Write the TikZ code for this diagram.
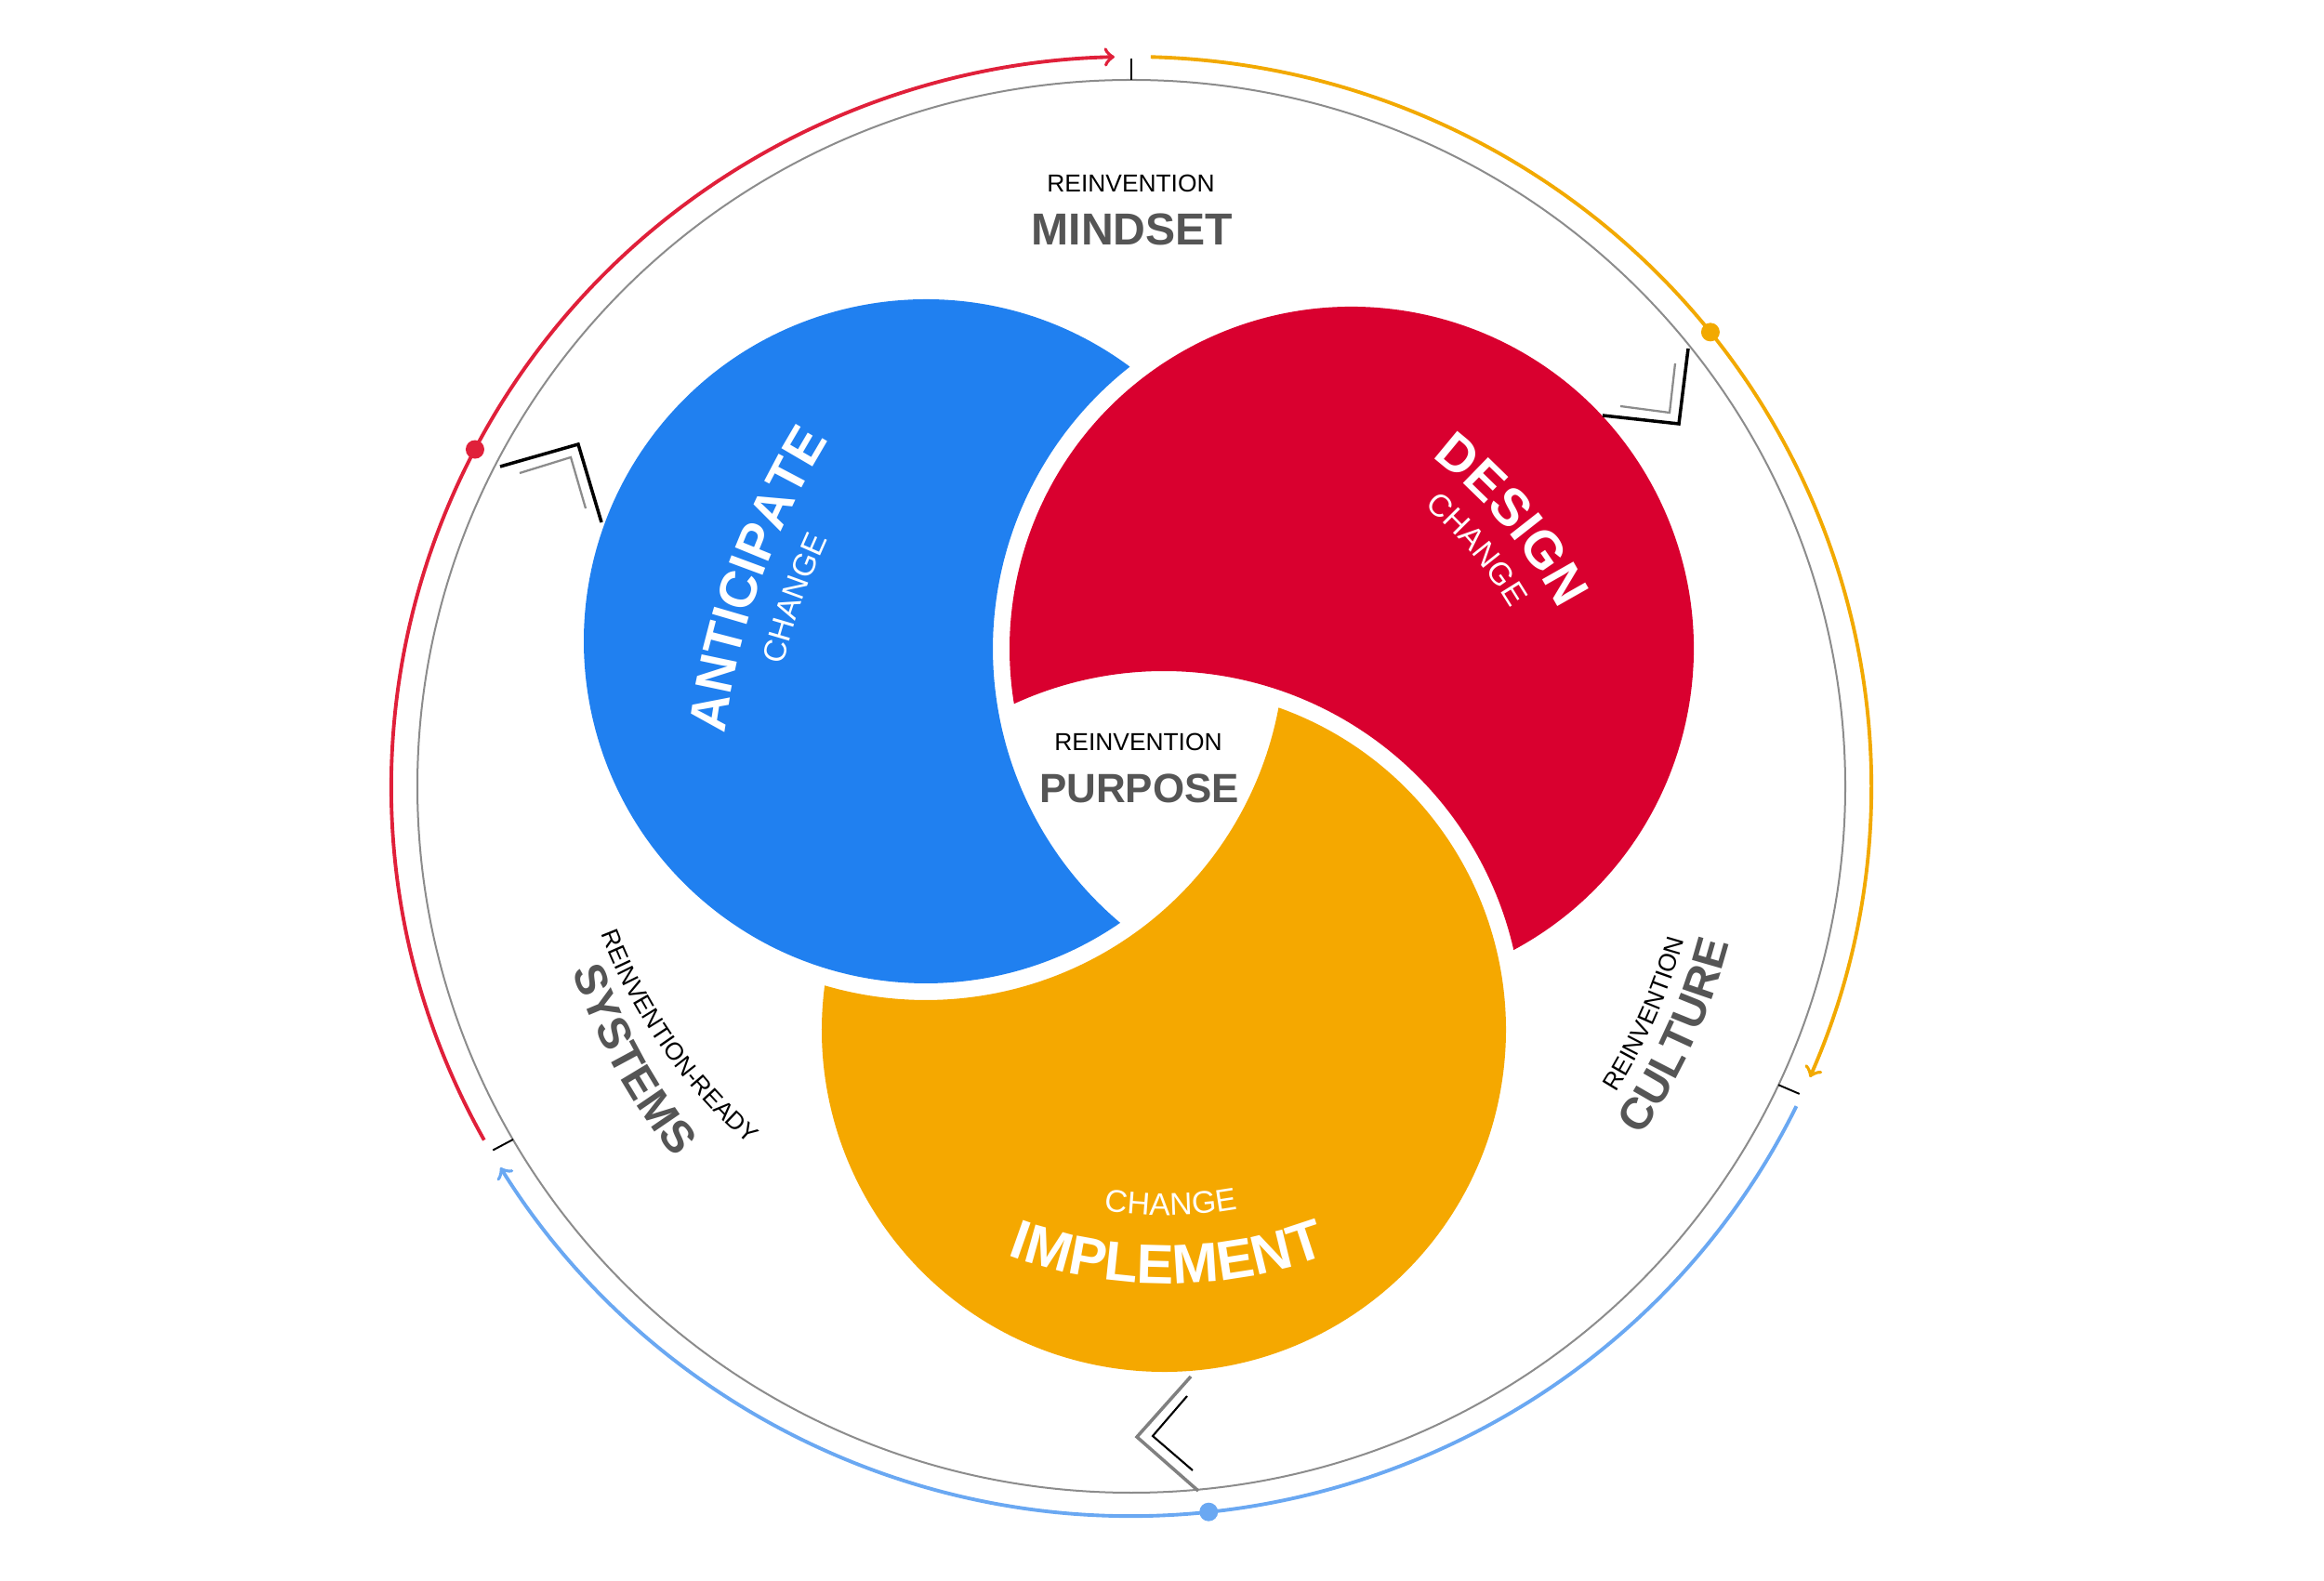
\documentclass[tikz,border=0pt]{standalone}
\usepackage{fontspec}
\setmainfont{Liberation Sans}
\usetikzlibrary{calc,decorations.text}
\definecolor{blueblob}{HTML}{2080F0}
\definecolor{redblob}{HTML}{D9002F}
\definecolor{orangeblob}{HTML}{F5A800}
\definecolor{redarc}{HTML}{E0203A}
\definecolor{orangearc}{HTML}{F2A900}
\definecolor{bluearc}{HTML}{6AA8F2}
\definecolor{ringgray}{HTML}{8C8C8C}
\definecolor{labelgray}{HTML}{555555}
\begin{document}
\begin{tikzpicture}[
    ring/.style={ringgray, line width=0.57pt},
    flow/.style={line width=1.1pt, ->},
    tickmark/.style={black, line width=0.55pt},
    small/.style={font=\fontsize{7.5}{9}\selectfont},
    big/.style={font=\bfseries\fontsize{13.7}{16}\selectfont, text=labelgray},
  ]
  \useasboundingbox (0,0) rectangle (25,17);
  \coordinate (C) at (12.17,8.54);
  \coordinate (B) at (9.96,10.10);
  \coordinate (R) at (14.54,10.02);
  \coordinate (O) at (12.52,5.92);

  % the three blobs, each cut by the next one (gap circle r=3.86)
  \fill[blueblob] ($(B)+(53.39:3.68)$) arc[start angle=53.39, end angle=304.61, radius=3.68]
    arc[start angle=229.82, end angle=128.18, radius=3.86] -- cycle;
  \fill[redblob] ($(R)+(-61.73:3.68)$) arc[start angle=-61.73, end angle=189.27, radius=3.68]
    arc[start angle=114.68, end angle=12.86, radius=3.86] -- cycle;
  \fill[orangeblob] ($(O)+(172.55:3.68)$) arc[start angle=172.55, end angle=430.41, radius=3.68]
    arc[start angle=349.35, end angle=253.61, radius=3.86] -- cycle;

  % ring and flows
  \draw[ring] (C) ellipse [x radius=7.68, y radius=7.60];
  \draw[redarc, flow] ($(C)+(209:7.96 and 7.85)$) arc[start angle=209, end angle=91.3, x radius=7.96, y radius=7.85];
  \draw[orangearc, flow] ($(C)+(88.5:7.96 and 7.85)$) arc[start angle=88.5, end angle=-23.5, x radius=7.96, y radius=7.85];
  \draw[bluearc, flow] ($(C)+(-26:7.96 and 7.85)$) arc[start angle=-26, end angle=-148.5, x radius=7.96, y radius=7.85];
  \fill[redarc] ($(C)+(152.5:7.96 and 7.85)$) circle (0.1);
  \fill[orangearc] ($(C)+(38.5:7.96 and 7.85)$) circle (0.1);
  \fill[bluearc] ($(C)+(-84:7.96 and 7.85)$) circle (0.1);
  \foreach \a in {90,-25,210}
    \draw[tickmark] ($(C)+(\a:7.68 and 7.60)$) -- ($(C)+(\a:7.93 and 7.83)$);

  % chevrons
  \draw[line width=1pt] (5.38,11.98) -- (6.22,12.22) -- (6.47,11.38);
  \draw[ringgray, line width=0.65pt] (5.59,11.91) -- (6.14,12.08) -- (6.30,11.53);
  \draw[line width=1pt] (17.24,12.53) -- (18.06,12.44) -- (18.16,13.25);
  \draw[ringgray, line width=0.65pt] (17.43,12.63) -- (17.96,12.56) -- (18.02,13.09);
  \draw[gray, line width=1pt] (12.81,2.19) -- (12.23,1.54) -- (12.89,0.96);
  \draw[line width=0.6pt] (12.77,1.98) -- (12.40,1.55) -- (12.83,1.18);

  % labels
  \node[small] (mindtop) at (12.165,15.025) {REINVENTION};
  \node[big] (mind) at (12.18,14.53) {MINDSET};
  \node[small] (purtop) at (12.245,9.02) {REINVENTION};
  \node[big, font=\bfseries\fontsize{12.5}{15}\selectfont] (pur) at (12.255,8.52) {PURPOSE};

  \path[decorate, decoration={text along path, text align=center,
      text={|\bfseries\fontsize{13.7}{16}\selectfont\color{labelgray}|SYSTEMS}}]
    ($(C)+(183.7:6.33)$) arc[start angle=183.7, end angle=233.7, radius=6.33];
  \coordinate (rrc) at (11.79,8.99);
  \path[decorate, decoration={text along path, text align=center,
      text={|\fontsize{7.5}{9}\selectfont|REINVENTION-READY}}]
    ($(rrc)+(190:5.7)$) arc[start angle=190, end angle=240, radius=5.7];
  \path[decorate, decoration={text along path, text align=center,
      text={|\bfseries\fontsize{13.7}{16}\selectfont\color{labelgray}|CULTURE}}]
    ($(C)+(-49.6:6.65)$) arc[start angle=-49.6, end angle=0.4, radius=6.65];
  \path[decorate, decoration={text along path, text align=center,
      text={|\fontsize{7.5}{9}\selectfont|REINVENTION}}]
    ($(C)+(-48.9:6.17)$) arc[start angle=-48.9, end angle=1.1, radius=6.17];

  % blob texts
  \coordinate (antc) at (15.724,8.063);
  \coordinate (desc) at (12.50,8.25);
  \coordinate (impc) at (12.56,8.13);
  \path[decorate, decoration={text along path, text align=center,
      text={|\bfseries\fontsize{16}{18}\selectfont\color{white}|ANTICIPATE}}]
    ($(antc)+(175.4:8)$) arc[start angle=175.4, end angle=145.4, radius=8];
  \path[decorate, decoration={text along path, text align=center,
      text={|\fontsize{9.6}{11}\selectfont\color{white}|CHANGE}}]
    ($(antc)+(175.8:7.51)$) arc[start angle=175.8, end angle=145.8, radius=7.51];
  \path[decorate, decoration={text along path, text align=center,
      text={|\bfseries\fontsize{16}{18}\selectfont\color{white}|DESIGN}}]
    ($(desc)+(65:4.80)$) arc[start angle=65, end angle=15, radius=4.80];
  \path[decorate, decoration={text along path, text align=center,
      text={|\fontsize{9.6}{11}\selectfont\color{white}|CHANGE}}]
    ($(desc)+(65:4.35)$) arc[start angle=65, end angle=15, radius=4.35];
  \path[decorate, decoration={text along path, text align=center,
      text={|\bfseries\fontsize{17}{19}\selectfont\color{white}|IMPLEMENT}}]
    ($(impc)+(-115:4.94)$) arc[start angle=-115, end angle=-65, radius=4.94];
  \path[decorate, decoration={text along path, text align=center,
      text={|\fontsize{9.6}{11}\selectfont\color{white}|CHANGE}}]
    ($(impc)+(-114.5:4.205)$) arc[start angle=-114.5, end angle=-64.5, radius=4.205];
\end{tikzpicture}
\end{document}
